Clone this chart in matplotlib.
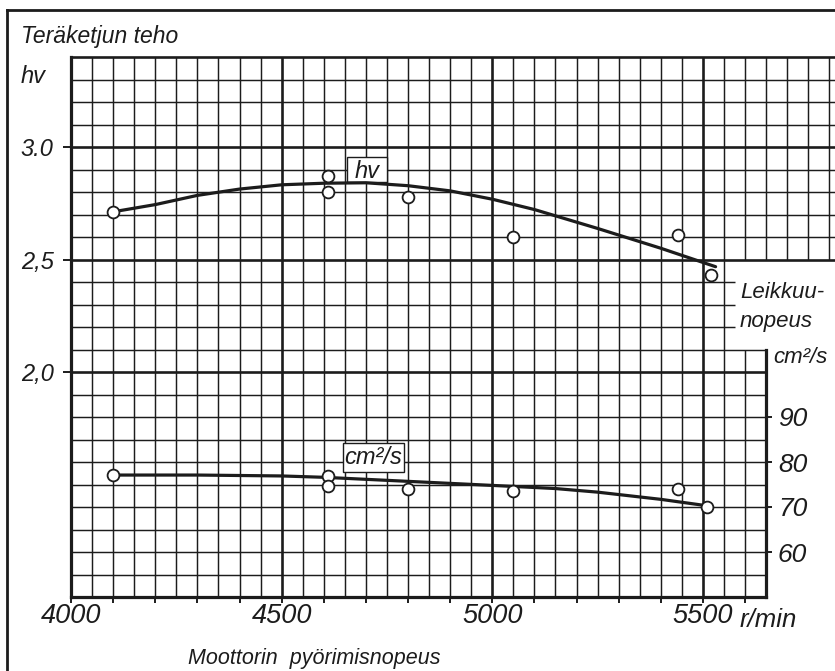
import numpy as np
import matplotlib
matplotlib.use("Agg")
import matplotlib.pyplot as plt
from matplotlib.lines import Line2D
from matplotlib.patches import Rectangle

# --- data ---
# measured points, chain power (hv)
hv_rpm = [4100, 4610, 4610, 4800, 5050, 5440, 5520]
hv_val = [2.71, 2.87, 2.80, 2.78, 2.60, 2.61, 2.43]

# drawn fair curve, chain power (hv)
hv_curve_rpm = [4100, 4200, 4300, 4400, 4500, 4600, 4700, 4800, 4900, 5000, 5100, 5250, 5400, 5530]
hv_curve_val = [2.712, 2.744, 2.785, 2.813, 2.832, 2.839, 2.841, 2.828, 2.805, 2.768, 2.722, 2.638, 2.550, 2.468]

# measured points, cutting speed (cm2/s)
cm_rpm = [4100, 4610, 4610, 4800, 5050, 5440, 5510]
cm_val = [77.1, 76.9, 74.7, 74.0, 73.6, 74.0, 70.0]

# drawn fair curve, cutting speed (cm2/s)
cm_curve_rpm = [4100, 4300, 4500, 4600, 4800, 5000, 5150, 5250, 5400, 5500]
cm_curve_val = [77.1, 77.1, 76.9, 76.6, 75.7, 74.8, 74.1, 73.3, 71.7, 70.4]

x_ticks = [4000, 4500, 5000, 5500]
x_ticklabels = ["4000", "4500", "5000", "5500"]
hv_ticks = [2.0, 2.5, 3.0]
hv_ticklabels = ["2,0", "2,5", "3.0"]
cm_ticks = [60, 70, 80, 90]

W, H = 835, 671
INK = "#1c1c1c"
FONT = ["Liberation Sans", "DejaVu Sans"]


def fx(px):
    return px / W


def fy(py):
    return 1 - py / H


fig = plt.figure(figsize=(W / 100, H / 100), dpi=100)
fig.patch.set_facecolor("white")

# axes: x 4000..(right edge), hv 1.0..3.4
ax = fig.add_axes([fx(71), fy(597), fx(835) - fx(71), fy(57) - fy(597)])
x_max = 4000 + (835 - 71) / 0.4213
x_right = 5650  # right border of lower panel
ax.set_xlim(4000, x_max)
ax.set_ylim(1.0, 3.4)
ax.set_facecolor("none")

# millimetre-paper style grid
fine, major = 1.05, 1.9
for xv in np.arange(4050, x_max, 50):
    lw = major if round(xv) % 500 == 0 else fine
    if xv <= 5550:
        segs = [(1.0, 3.4)]
    elif xv <= x_right:
        segs = [(1.0, 2.1), (2.5, 3.4)]
    else:
        segs = [(2.5, 3.4)]
    for lo, hi in segs:
        ax.plot([xv, xv], [lo, hi], color=INK, lw=lw, zorder=1, clip_on=False,
                solid_capstyle="butt")

for yv in np.round(np.arange(1.1, 3.41, 0.1), 1):
    lw = major if yv in (2.0, 2.5, 3.0, 3.4) else fine
    if yv >= 2.5:
        x_end = x_max
    elif yv > 2.1:
        x_end = 5575
    else:
        x_end = x_right
    ax.plot([4000, x_end], [yv, yv], color=INK, lw=lw, zorder=1, clip_on=False,
            solid_capstyle="butt")

for side in ["top", "right"]:
    ax.spines[side].set_visible(False)
ax.spines["left"].set_linewidth(2.3)
ax.spines["bottom"].set_linewidth(2.3)
ax.spines["bottom"].set_bounds(4000, x_right)
ax.spines["left"].set_color(INK)
ax.spines["bottom"].set_color(INK)

ax.set_xticks(x_ticks)
ax.set_xticklabels(x_ticklabels)
ax.set_xticks([v for v in range(4100, 5700, 100) if v % 500 != 0], minor=True)
ax.tick_params(axis="x", which="both", direction="out", length=4.5, width=1.4,
               color=INK, pad=0)
ax.set_yticks(hv_ticks)
ax.set_yticklabels(hv_ticklabels)
ax.tick_params(axis="y", direction="out", length=5.5, width=1.4, color=INK, pad=7)
for lab in ax.get_xticklabels():
    lab.set_fontfamily(FONT)
    lab.set_fontstyle("italic")
    lab.set_fontsize(19.5)
    lab.set_color(INK)
for lab in ax.get_yticklabels():
    lab.set_fontfamily(FONT)
    lab.set_fontstyle("italic")
    lab.set_fontsize(17)
    lab.set_color(INK)

# second scale: cutting speed
ax2 = ax.twinx()
ax2.set_ylim(50, 170)
for side in ["top", "left", "bottom"]:
    ax2.spines[side].set_visible(False)
ax2.spines["right"].set_position(("data", x_right))
ax2.spines["right"].set_bounds(50, 105)
ax2.spines["right"].set_linewidth(2.3)
ax2.spines["right"].set_color(INK)
ax2.set_yticks(cm_ticks)
ax2.set_yticklabels([str(v) for v in cm_ticks])
ax2.tick_params(axis="y", direction="out", length=4.5, width=1.4, color=INK, pad=4)
for lab in ax2.get_yticklabels():
    lab.set_fontfamily(FONT)
    lab.set_fontstyle("italic")
    lab.set_fontsize(19)
    lab.set_color(INK)

# curves and measured points
ax.plot(hv_curve_rpm, hv_curve_val, color=INK, lw=2.3, zorder=4,
        solid_capstyle="round")
ax.plot(hv_rpm, hv_val, "o", ms=8.5, mfc="white", mec=INK, mew=1.3, zorder=5)
ax2.plot(cm_curve_rpm, cm_curve_val, color=INK, lw=2.3, zorder=4,
         solid_capstyle="round")
ax2.plot(cm_rpm, cm_val, "o", ms=8.5, mfc="white", mec=INK, mew=1.3, zorder=5)

# boxed curve labels
ax.add_patch(Rectangle((4655, 2.844), 96, 0.112, fc="white", ec=INK, lw=1.0, zorder=3))
ax.text(4703, 2.893, "hv", ha="center", va="center", fontsize=17, style="italic",
        family=FONT, color=INK, zorder=6)
ax.add_patch(Rectangle((4646, 1.556), 144, 0.128, fc="white", ec=INK, lw=1.0, zorder=3))
ax.text(4718, 1.618, "cm²/s", ha="center", va="center", fontsize=17, style="italic",
        family=FONT, color=INK, zorder=6)

# outer frame
fig.add_artist(Line2D([fx(7), fx(7)], [fy(10), 0], color=INK, lw=2.0))
fig.add_artist(Line2D([fx(7), 1], [fy(10), fy(10)], color=INK, lw=2.0))

# axis titles
fig.text(fx(21), fy(43), "Teräketjun teho", fontsize=16.5, style="italic",
         family=FONT, color=INK, va="baseline")
fig.text(fx(21), fy(83), "hv", fontsize=17, style="italic",
         family=FONT, color=INK, va="baseline")
fig.text(fx(740), fy(298), "Leikkuu-", fontsize=16, style="italic",
         family=FONT, color=INK, va="baseline")
fig.text(fx(740), fy(327), "nopeus", fontsize=16, style="italic",
         family=FONT, color=INK, va="baseline")
fig.text(fx(773), fy(363), "cm²/s", fontsize=16, style="italic",
         family=FONT, color=INK, va="baseline")
fig.text(fx(740), fy(627), "r/min", fontsize=18.5, style="italic",
         family=FONT, color=INK, va="baseline")
fig.text(fx(188), fy(664), "Moottorin  pyörimisnopeus", fontsize=15.5, style="italic",
         family=FONT, color=INK, va="baseline")

fig.savefig("out.png", dpi=100, facecolor="white")
